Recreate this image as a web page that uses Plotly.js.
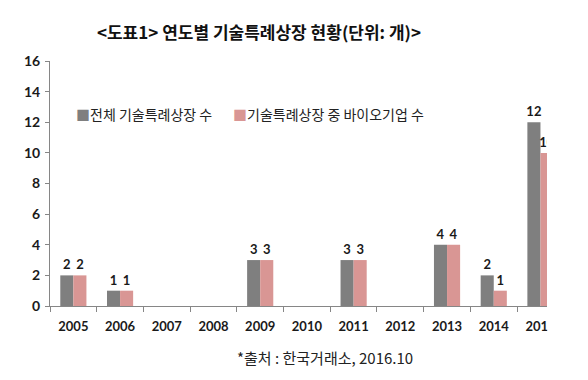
<!DOCTYPE html>
<html><head><meta charset="utf-8">
<script src="https://cdn.plot.ly/plotly-3.0.1.min.js"></script>
<style>html,body{margin:0;padding:0;background:#fff;overflow:hidden}</style>
</head><body>
<div id="chart" style="width:588px;height:380px"></div>
<script>
const years = ['2005','2006','2007','2008','2009','2010','2011','2012','2013','2014','2015'];
const totalListings = [2,1,0,0,3,0,3,0,4,2,12];
const bioListings = [2,1,0,0,3,0,3,0,4,1,10];
const seriesNames = ['전체 기술특례상장 수','기술특례상장 중 바이오기업 수'];
const seriesColors = ['#7f7f7f','#d99694'];
const yTicks = [0,2,4,6,8,10,12,14,16];

const numFont = {family:'Lato, "Noto Sans CJK KR", sans-serif', size:13, color:'#1a1a1a', weight:700};
const lbl = v => v.map(x => x > 0 ? String(x) : '');
const krFont = {family:'"Noto Sans CJK KR", sans-serif', size:14, color:'#222'};

const traces = [
  {type:'bar', x:years, y:totalListings, name:seriesNames[0], marker:{color:seriesColors[0]},
   text:lbl(totalListings), textposition:'outside', cliponaxis:true, constraintext:'none',
   textfont:numFont, hoverinfo:'skip', showlegend:false},
  {type:'bar', x:years, y:bioListings, name:seriesNames[1], marker:{color:seriesColors[1]},
   text:lbl(bioListings), textposition:'outside', cliponaxis:true, constraintext:'none',
   textfont:numFont, hoverinfo:'skip', showlegend:false}
];

const legendX = [74, 231];
const legendAnn = seriesNames.map((n, i) => ({
  text:'<span style="color:' + seriesColors[i] + '">■</span>' + n,
  xref:'paper', yref:'paper', x:(legendX[i]-50)/497, y:(306-114)/245,
  xanchor:'left', yanchor:'middle', showarrow:false, font:krFont
}));

const layout = {
  width:588, height:380,
  margin:{l:50, r:41, t:61, b:74},
  paper_bgcolor:'#fff', plot_bgcolor:'#fff',
  barmode:'group', bargap:0.44, bargroupgap:0,
  showlegend:false,
  title:{text:'<b>&lt;도표1&gt; 연도별 기술특례상장 현황(단위: 개)&gt;</b>',
    xref:'container', yref:'container', x:259/588, xanchor:'center', y:1-33/380, yanchor:'middle',
    font:{family:'"Noto Sans CJK KR", sans-serif', size:17, color:'#111'}},
  xaxis:{type:'category', range:[-0.5, 10.14], showline:true, linecolor:'#868686', linewidth:1,
    ticks:'outside', ticklen:5, tickcolor:'#868686', tickson:'boundaries',
    showgrid:false, zeroline:false, tickfont:numFont, fixedrange:true, ticklabelstandoff:8},
  yaxis:{range:[0,16], tickvals:yTicks, showline:true, linecolor:'#868686', linewidth:1,
    ticks:'outside', ticklen:4, tickcolor:'#868686', showgrid:false, zeroline:false,
    tickfont:Object.assign({}, numFont, {size:14}), fixedrange:true, ticklabelstandoff:2},
  shapes:[{type:'rect', xref:'paper', yref:'paper', x0:1.001, x1:1.2, y0:-0.3, y1:1.1,
    fillcolor:'#fff', line:{width:0}, layer:'above'}],
  annotations:legendAnn.concat([{text:'*출처 : 한국거래소, 2016.10', xref:'paper', yref:'paper',
    x:(325-50)/497, y:-(357-306)/245, xanchor:'center', yanchor:'middle', showarrow:false,
    font:Object.assign({}, krFont, {size:15})}])
};

Plotly.newPlot('chart', traces, layout, {displayModeBar:false, staticPlot:true});
</script>
</body></html>
